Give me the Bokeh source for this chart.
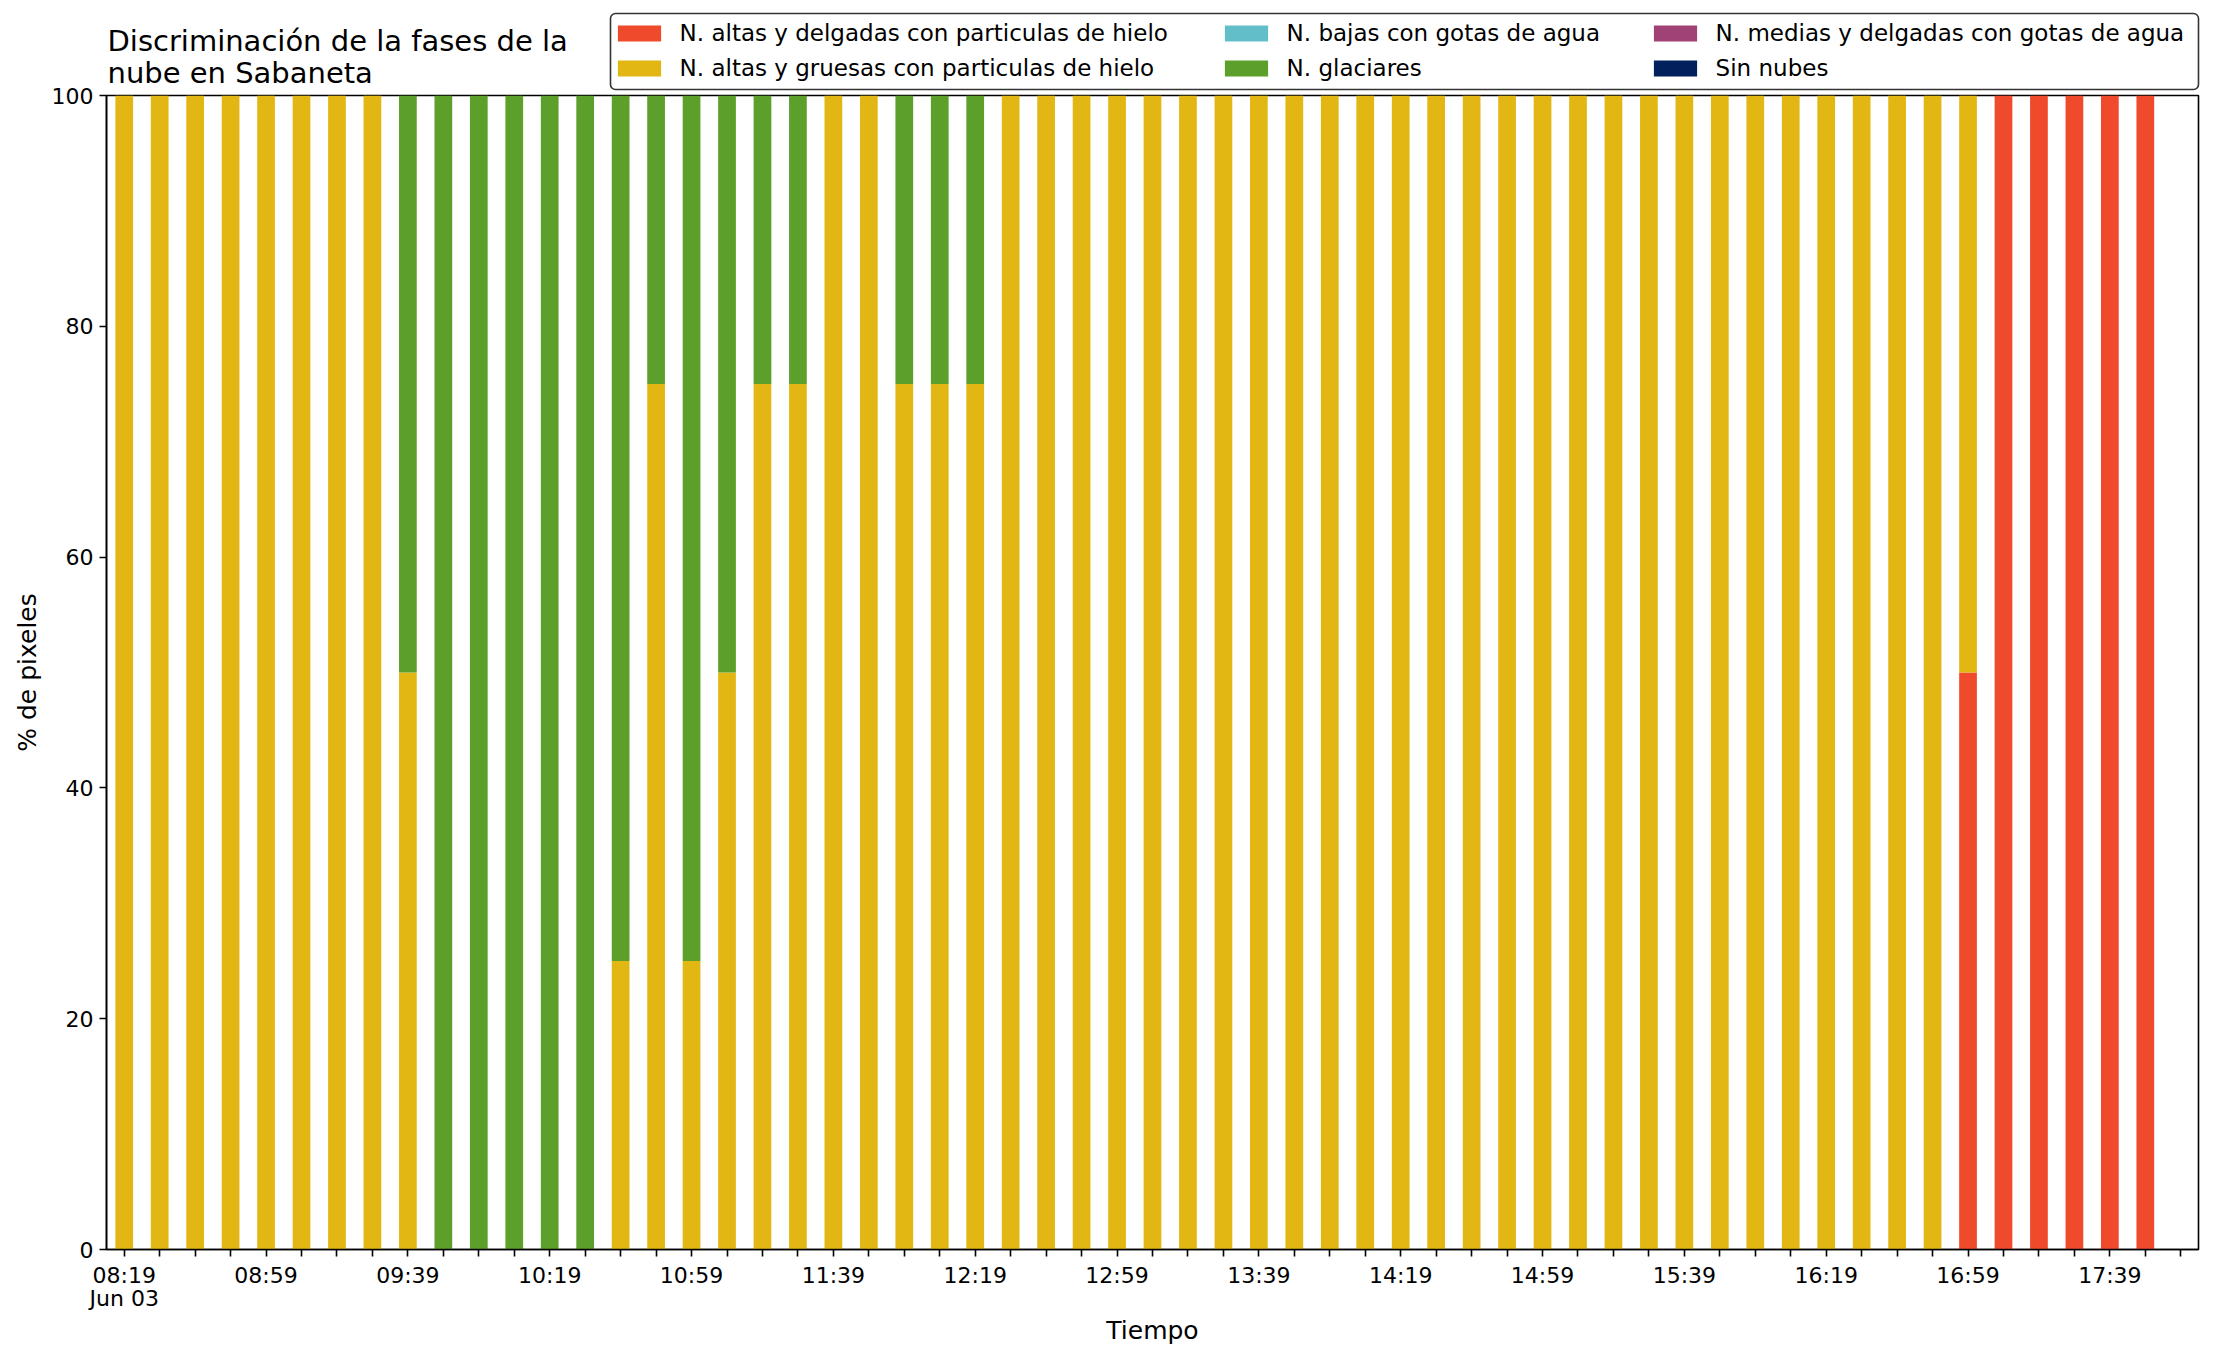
import pandas as pd
from bokeh.plotting import figure
from bokeh.layouts import column
from bokeh.models import (ColumnDataSource, Range1d, FixedTicker, CustomJSTickFormatter,
                          Legend, LegendItem, Label, BoxAnnotation)
from bokeh.embed import file_html
from bokeh.resources import INLINE

fecha = "2022-06-03"
tiempos = [
    "08:19", "08:29", "08:39", "08:49", "08:59",
    "09:09", "09:19", "09:29", "09:39", "09:49", "09:59",
    "10:09", "10:19", "10:29", "10:39", "10:49", "10:59",
    "11:09", "11:19", "11:29", "11:39", "11:49", "11:59",
    "12:09", "12:19", "12:29", "12:39", "12:49", "12:59",
    "13:09", "13:19", "13:29", "13:39", "13:49", "13:59",
    "14:09", "14:19", "14:29", "14:39", "14:49", "14:59",
    "15:09", "15:19", "15:29", "15:39", "15:49", "15:59",
    "16:09", "16:19", "16:29", "16:39", "16:49", "16:59",
    "17:09", "17:19", "17:29", "17:39", "17:49", "17:59",
]

titulo = ["Discriminación de la fases de la", "nube en Sabaneta"]
nombres = [
    "N. altas y delgadas con particulas de hielo",
    "N. altas y gruesas con particulas de hielo",
    "N. bajas con gotas de agua",
    "N. glaciares",
    "N. medias y delgadas con gotas de agua",
    "Sin nubes",
]
colores = ["#F04A2C", "#E3B713", "#62BFCA", "#5C9F2A", "#A14276", "#02215C"]

altas_delgadas = [
    0, 0, 0, 0, 0,
    0, 0, 0, 0, 0, 0,
    0, 0, 0, 0, 0, 0,
    0, 0, 0, 0, 0, 0,
    0, 0, 0, 0, 0, 0,
    0, 0, 0, 0, 0, 0,
    0, 0, 0, 0, 0, 0,
    0, 0, 0, 0, 0, 0,
    0, 0, 0, 0, 0, 50,
    100, 100, 100, 100, 100, 0,
]
altas_gruesas = [
    100, 100, 100, 100, 100,
    100, 100, 100, 50, 0, 0,
    0, 0, 0, 25, 75, 25,
    50, 75, 75, 100, 100, 75,
    75, 75, 100, 100, 100, 100,
    100, 100, 100, 100, 100, 100,
    100, 100, 100, 100, 100, 100,
    100, 100, 100, 100, 100, 100,
    100, 100, 100, 100, 100, 50,
    0, 0, 0, 0, 0, 0,
]
bajas_agua = [
    0, 0, 0, 0, 0,
    0, 0, 0, 0, 0, 0,
    0, 0, 0, 0, 0, 0,
    0, 0, 0, 0, 0, 0,
    0, 0, 0, 0, 0, 0,
    0, 0, 0, 0, 0, 0,
    0, 0, 0, 0, 0, 0,
    0, 0, 0, 0, 0, 0,
    0, 0, 0, 0, 0, 0,
    0, 0, 0, 0, 0, 0,
]
glaciares = [
    0, 0, 0, 0, 0,
    0, 0, 0, 50, 100, 100,
    100, 100, 100, 75, 25, 75,
    50, 25, 25, 0, 0, 25,
    25, 25, 0, 0, 0, 0,
    0, 0, 0, 0, 0, 0,
    0, 0, 0, 0, 0, 0,
    0, 0, 0, 0, 0, 0,
    0, 0, 0, 0, 0, 0,
    0, 0, 0, 0, 0, 0,
]
medias_agua = [
    0, 0, 0, 0, 0,
    0, 0, 0, 0, 0, 0,
    0, 0, 0, 0, 0, 0,
    0, 0, 0, 0, 0, 0,
    0, 0, 0, 0, 0, 0,
    0, 0, 0, 0, 0, 0,
    0, 0, 0, 0, 0, 0,
    0, 0, 0, 0, 0, 0,
    0, 0, 0, 0, 0, 0,
    0, 0, 0, 0, 0, 0,
]
sin_nubes = [
    0, 0, 0, 0, 0,
    0, 0, 0, 0, 0, 0,
    0, 0, 0, 0, 0, 0,
    0, 0, 0, 0, 0, 0,
    0, 0, 0, 0, 0, 0,
    0, 0, 0, 0, 0, 0,
    0, 0, 0, 0, 0, 0,
    0, 0, 0, 0, 0, 0,
    0, 0, 0, 0, 0, 0,
    0, 0, 0, 0, 0, 0,
]

FONT = "DejaVu Sans"
W = 2200
HEAD_H = 100
OVERLAP = 22

# ---------------- header: title + legend (pixel-mapped ranges) ----------------
head = figure(width=W, height=HEAD_H, x_range=Range1d(0, W), y_range=Range1d(0, HEAD_H),
              x_axis_type=None, y_axis_type=None, output_backend="svg",
              toolbar_location=None, min_border=0,
              min_border_left=0, min_border_right=0, min_border_top=0, min_border_bottom=0)
head.frame_align = False
head.outline_line_color = None
head.xgrid.grid_line_color = None
head.ygrid.grid_line_color = None
head.background_fill_alpha = 0
head.border_fill_alpha = 0

head.add_layout(Label(x=107, y=59.5, text=titulo[0], text_font=FONT, text_font_size="29px",
                      text_color="black", text_baseline="alphabetic", text_align="left"))
head.add_layout(Label(x=107, y=28, text=titulo[1], text_font=FONT, text_font_size="29px",
                      text_color="black", text_baseline="alphabetic", text_align="left"))

head.add_layout(BoxAnnotation(left=610, right=2198, bottom=11, top=87,
                              fill_color="white", fill_alpha=0.8,
                              line_color="#333333", line_width=1.6, line_alpha=1,
                              border_radius=5, level="overlay"))

# legend-only renderers (a single zero-height bar kept outside the visible range)
dummy = []
for c in colores:
    dummy.append(head.vbar(x=[-1000], top=[0], width=1, fill_color=c, line_color=None))

col_x = [611.6, 1218.6, 1647.6]
for k in range(3):
    items = [LegendItem(label=nombres[2 * k], renderers=[dummy[2 * k]]),
             LegendItem(label=nombres[2 * k + 1], renderers=[dummy[2 * k + 1]])]
    lg = Legend(items=items, location=(col_x[k], 18), orientation="vertical",
                label_text_font=FONT, label_text_font_size="23px", label_text_color="black",
                glyph_width=54, glyph_height=20, label_standoff=14, label_height=28,
                spacing=7, padding=0, margin=0,
                border_line_color=None, background_fill_alpha=0, level="overlay")
    head.add_layout(lg, "center")

# ---------------- main chart ----------------
x = pd.to_datetime([fecha + " " + t for t in tiempos])
claves = ["s0", "s1", "s2", "s3", "s4", "s5"]
source = ColumnDataSource(dict(
    x=x,
    s0=altas_delgadas, s1=altas_gruesas, s2=bajas_agua,
    s3=glaciares, s4=medias_agua, s5=sin_nubes,
))

p = figure(
    frame_width=2092, frame_height=1154,
    x_axis_type="datetime",
    x_range=Range1d(pd.Timestamp(fecha + " 08:14"), pd.Timestamp(fecha + " 18:04")),
    y_range=Range1d(0, 100),
    output_backend="svg", toolbar_location=None,
    min_border_left=106, min_border_right=2, min_border_top=17, min_border_bottom=98,
)
p.frame_align = False
p.margin = (-OVERLAP, 0, 0, 0)
p.border_fill_alpha = 0

p.vbar_stack(claves, x="x", width=5 * 60 * 1000, fill_color=colores, line_color=None,
             source=source)

p.xgrid.grid_line_color = None
p.ygrid.grid_line_color = None
p.outline_line_color = "black"
p.outline_line_width = 1.6
p.outline_line_alpha = 1

ticks_ms = [int(v) for v in (x.asi8 // 1_000_000)]
p.xaxis.ticker = FixedTicker(ticks=ticks_ms)
p.xaxis.formatter = CustomJSTickFormatter(code="""
    const d = new Date(tick);
    const h = d.getUTCHours(), m = d.getUTCMinutes();
    if (index % 4 != 0) { return ""; }
    const s = String(h).padStart(2, '0') + ":" + String(m).padStart(2, '0');
    if (index == 0) { return s + "\\nJun 03"; }
    return s;
""")
p.yaxis.ticker = FixedTicker(ticks=[0, 20, 40, 60, 80, 100])

for ax in (p.xaxis[0], p.yaxis[0]):
    ax.axis_line_color = "black"
    ax.axis_line_width = 1.6
    ax.major_tick_line_color = "black"
    ax.major_tick_line_width = 1.6
    ax.major_tick_out = 7
    ax.major_tick_in = 0
    ax.minor_tick_line_color = None
    ax.major_label_text_font = FONT
    ax.major_label_text_font_size = "22px"
    ax.major_label_text_color = "black"
    ax.major_label_standoff = 6
    ax.axis_label_text_font = FONT
    ax.axis_label_text_font_size = "25px"
    ax.axis_label_text_font_style = "normal"
    ax.axis_label_text_color = "black"

p.xaxis.major_label_text_line_height = 0.95
p.xaxis.axis_label = "Tiempo"
p.yaxis.axis_label = "% de pixeles"
p.xaxis.axis_label_standoff = 2
p.yaxis.axis_label_standoff = 7

layout = column(head, p, spacing=0)
open("out.html", "w").write(file_html(layout, INLINE))
